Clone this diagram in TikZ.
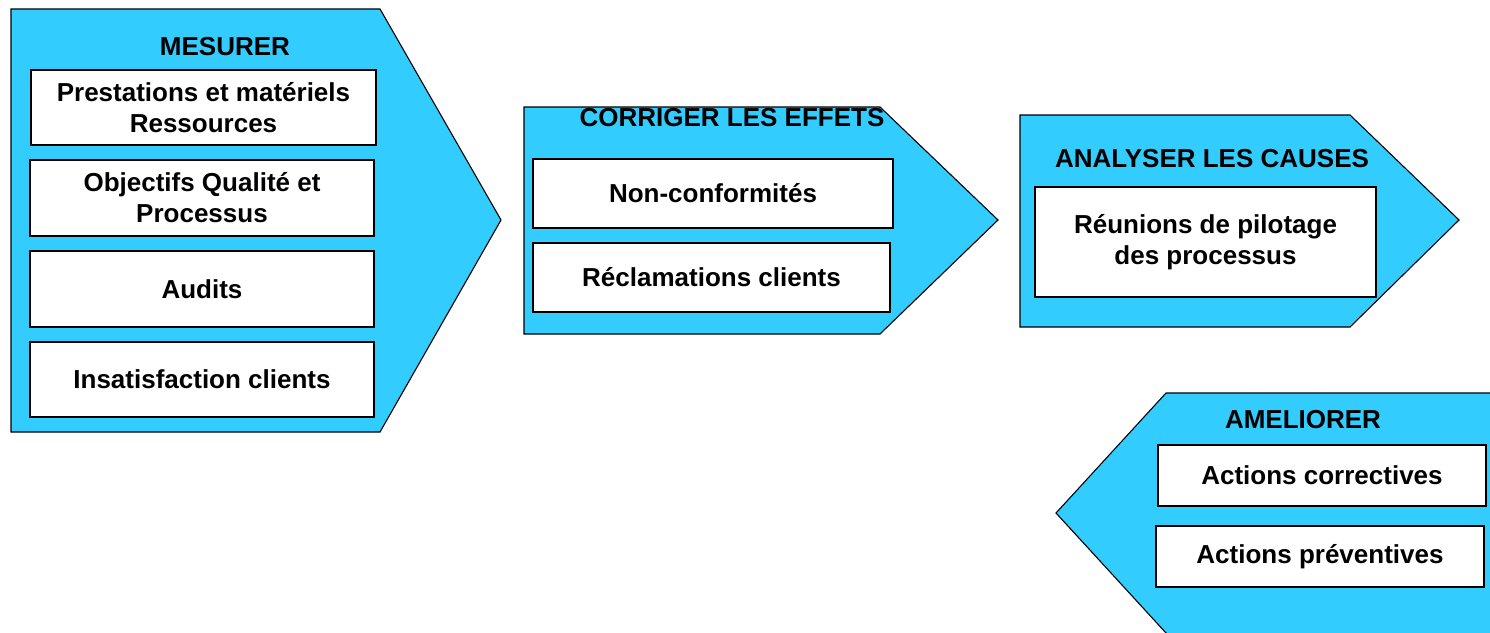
\documentclass[tikz,border=0pt]{standalone}
\usepackage{fontspec}
\setmainfont{Liberation Sans}
\definecolor{chevron}{HTML}{33CCFF}
\tikzset{
  chev/.style={fill=chevron, draw=black, line width=1.1pt, line join=miter},
  itembox/.style={draw=black, fill=white, line width=1.3pt, inner sep=0pt, align=center,
    font=\bfseries\fontsize{26}{31}\selectfont},
  title/.style={inner sep=0pt, anchor=base, font=\bfseries\fontsize{26}{31}\selectfont}
}
\begin{document}
\begin{tikzpicture}[x=1pt,y=-1pt]
\useasboundingbox (0,0) rectangle (1490,632);
\clip (0,0) rectangle (1490,632);
\fill[white] (0,0) rectangle (1490,632);
% shape 1
\draw[chev] (11,9) -- (380,9) -- (501,220) -- (380,432) -- (11,432) -- cycle;
\node[title] (t1) at (225,55) {MESURER};
\node[itembox, minimum width=345pt, minimum height=75pt] (m1) at (203.5,107.5) {Prestations et matériels\\Ressources};
\node[itembox, minimum width=344pt, minimum height=76pt] (m2) at (202,198) {Objectifs Qualité et\\Processus};
\node[itembox, minimum width=344pt, minimum height=76pt] (m3) at (202,289) {Audits};
\node[itembox, minimum width=344pt, minimum height=75pt] (m4) at (202,379.5) {Insatisfaction clients};
% shape 2
\draw[chev] (524,107) -- (880,107) -- (998,220) -- (880,334) -- (524,334) -- cycle;
\node[title] (t2) at (732,126) {CORRIGER LES EFFETS};
\node[itembox, minimum width=360pt, minimum height=69pt] (c1) at (713,193.5) {Non-conformités};
\node[itembox, minimum width=357pt, minimum height=69pt] (c2) at (711.5,277.5) {Réclamations clients};
% shape 3
\draw[chev] (1020,115) -- (1350,115) -- (1459,220) -- (1350,327) -- (1020,327) -- cycle;
\node[title] (t3) at (1212,167) {ANALYSER LES CAUSES};
\node[itembox, minimum width=341pt, minimum height=110pt] (a1) at (1205.5,242) {Réunions de pilotage\\des processus};
% shape 4
\draw[chev] (1166,393) -- (1500,393) -- (1500,650) -- (1181.6,650) -- (1056,513) -- cycle;
\node[title] (t4) at (1303,428) {AMELIORER};
\node[itembox, minimum width=328pt, minimum height=61pt] (i1) at (1322,475.5) {Actions correctives};
\node[itembox, minimum width=328pt, minimum height=61pt] (i2) at (1320,556.5) {Actions préventives};
\end{tikzpicture}
\end{document}
